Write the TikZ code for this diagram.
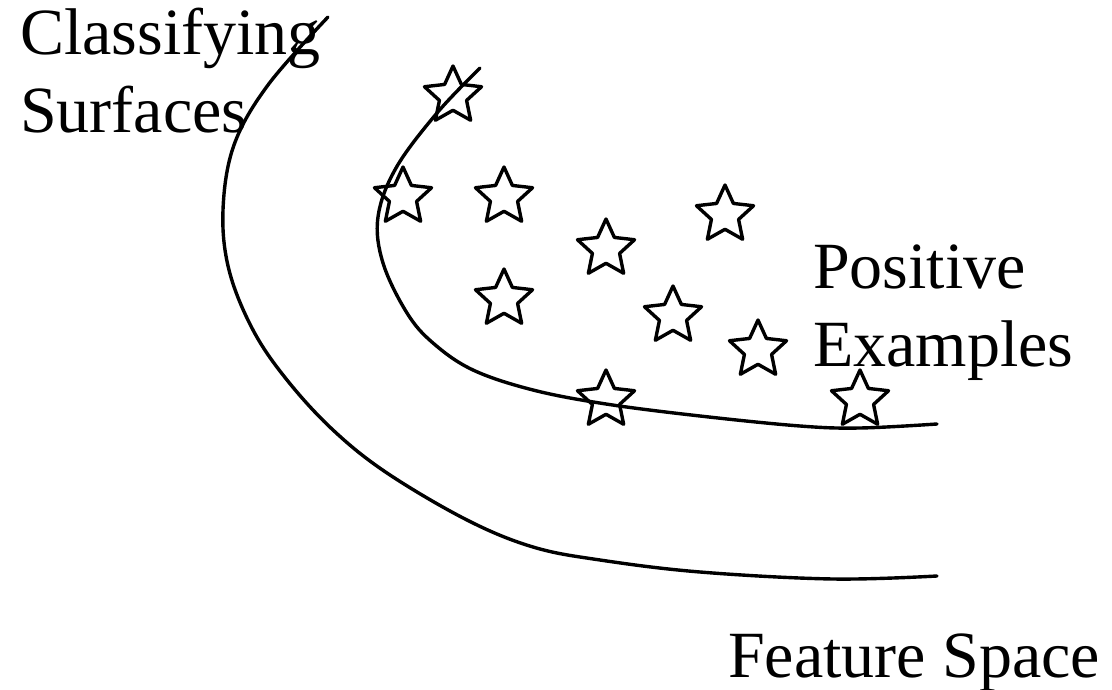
\documentclass[tikz,border=0pt]{standalone}
\usepackage{fontspec}
\setmainfont{Liberation Serif}
\usetikzlibrary{shapes.geometric}
\begin{document}
\begin{tikzpicture}[x=1pt,y=-1pt,
  curve/.style={line width=3.4pt,line cap=round},
  starmark/.style={star,star points=5,star point ratio=2.1,minimum size=60pt,
    inner sep=0pt,draw,line width=3.4pt,line join=round},
  label/.style={anchor=base west,inner sep=0pt,font=\fontsize{66}{78}\selectfont}]
\useasboundingbox (0,0) rectangle (1112,690);

% outer classifying surface
\draw[curve] plot[smooth,tension=0.6] coordinates {
  (328,17) (268,85) (234,145) (223,210) (229,270) (253,330)
  (287,380) (333,430) (387,473) (467,520) (533,547) (600,560) (700,572)
  (833,579) (937,576)};

% inner classifying surface
\draw[curve] plot[smooth,tension=0.6] coordinates {
  (480,68) (437,113) (396,168) (378,217) (383,263) (407,313) (433,343)
  (473,370) (533,390) (606,404) (700,416) (800,426) (860,428) (937,424)};

% positive examples
\node[starmark] (s0) at (453,96) {};
\node[starmark] (s1) at (403,197) {};
\node[starmark] (s2) at (504,197) {};
\node[starmark] (s3) at (606,249) {};
\node[starmark] (s4) at (725,215) {};
\node[starmark] (s5) at (504,299) {};
\node[starmark] (s6) at (673,316) {};
\node[starmark] (s7) at (758,350) {};
\node[starmark] (s8) at (606,400) {};
\node[starmark] (s9) at (860,400) {};

% labels
\node[label] (cls1) at (20,55) {Classifying};
\node[label] (cls2) at (20,133) {Surfaces};
\node[label] (pos1) at (813,288) {Positive};
\node[label] (pos2) at (813,366) {Examples};
\node[label] (feat) at (728,677) {Feature Space};
\end{tikzpicture}
\end{document}
